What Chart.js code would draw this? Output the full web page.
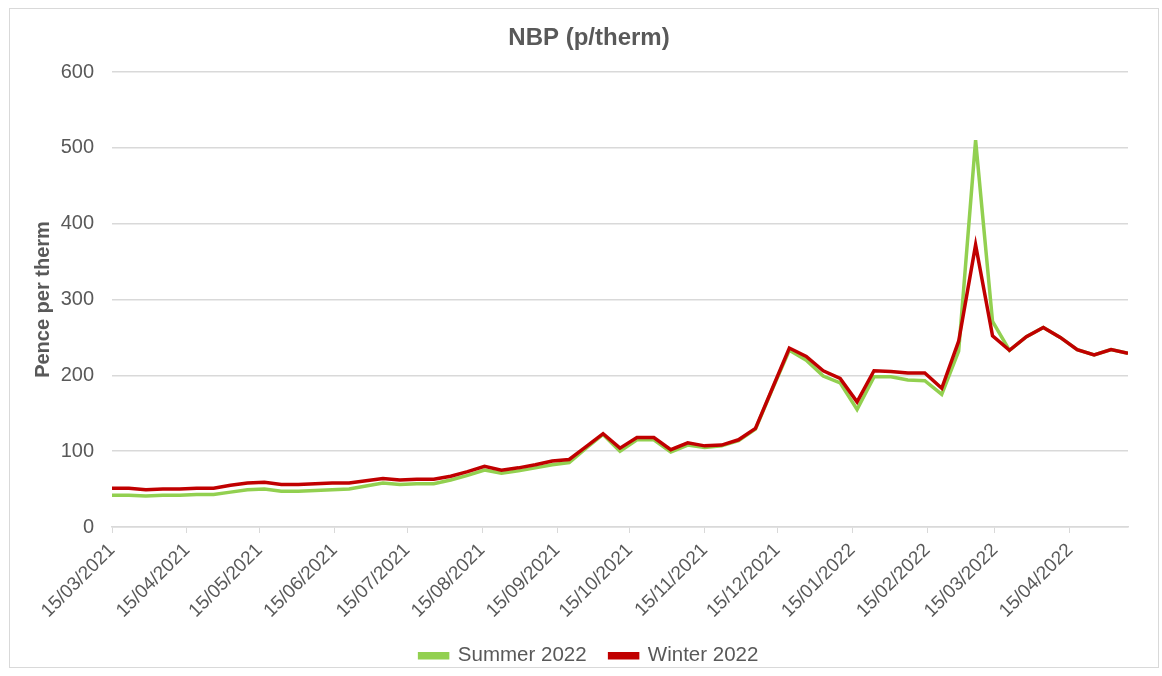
<!DOCTYPE html>
<html>
<head>
<meta charset="utf-8">
<script src="https://cdn.jsdelivr.net/npm/chart.js@4"></script>
<style>
  html, body { margin: 0; padding: 0; background: #fff; }
  #wrap { position: relative; width: 1162px; height: 676px; }
  #frame { position: absolute; left: 9px; top: 8px; width: 1150px; height: 660px; border: 1px solid #d9d9d9; box-sizing: border-box; }
  canvas { position: absolute; left: 0; top: 0; }
</style>
</head>
<body>
<div id="wrap">
  <div id="frame"></div>
  <canvas id="nbp-canvas" width="1162" height="676"></canvas>
</div>
<script>
// weekly observation dates (dd/mm/yyyy)
const weekDates = [
  '15/03/2021', '22/03/2021', '29/03/2021', '05/04/2021', '12/04/2021', '19/04/2021', '26/04/2021',
  '03/05/2021', '10/05/2021', '17/05/2021', '24/05/2021', '31/05/2021', '07/06/2021', '14/06/2021',
  '21/06/2021', '28/06/2021', '05/07/2021', '12/07/2021', '19/07/2021', '26/07/2021', '02/08/2021',
  '09/08/2021', '16/08/2021', '23/08/2021', '30/08/2021', '06/09/2021', '13/09/2021', '20/09/2021',
  '27/09/2021', '04/10/2021', '11/10/2021', '18/10/2021', '25/10/2021', '01/11/2021', '08/11/2021',
  '15/11/2021', '22/11/2021', '29/11/2021', '06/12/2021', '13/12/2021', '20/12/2021', '27/12/2021',
  '03/01/2022', '10/01/2022', '17/01/2022', '24/01/2022', '31/01/2022', '07/02/2022', '14/02/2022',
  '21/02/2022', '28/02/2022', '07/03/2022', '14/03/2022', '21/03/2022', '28/03/2022', '04/04/2022',
  '11/04/2022', '18/04/2022', '25/04/2022', '02/05/2022', '09/05/2022'
];

// Summer 2022 contract, pence per therm
const summer2022 = [
  42, 42, 41, 42, 42, 43, 43, 46, 49, 50, 47, 47, 48, 49, 50, 54, 58, 56, 57, 57,
  62, 68, 75, 71, 74, 78, 82, 85, 104, 122, 100, 115, 115, 99, 108, 105, 107, 114, 129, 182,
  233, 220, 199, 190, 155, 198, 198, 194, 193, 175, 232, 510, 271, 233, 251, 263, 250, 234, 227, 234,
  229
];

// Winter 2022 contract, pence per therm
const winter2022 = [
  51, 51, 49, 50, 50, 51, 51, 55, 58, 59, 56, 56, 57, 58, 58, 61, 64, 62, 63, 63,
  67, 73, 80, 75, 78, 82, 87, 89, 106, 123, 104, 118, 118, 102, 111, 107, 108, 115, 130, 183,
  236, 225, 206, 196, 165, 206, 205, 203, 203, 183, 245, 372, 252, 233, 251, 263, 250, 234, 227, 234,
  229
];

// x axis tick labels (15th of each month)
const tickLabels = [
  '15/03/2021', '15/04/2021', '15/05/2021', '15/06/2021', '15/07/2021', '15/08/2021', '15/09/2021',
  '15/10/2021', '15/11/2021', '15/12/2021', '15/01/2022', '15/02/2022', '15/03/2022', '15/04/2022'
];

const yTicks = [0, 100, 200, 300, 400, 500, 600];

const textColor = '#595959';
const gridColor = '#d9d9d9';
const fontFamily = '"Liberation Sans", Arial, sans-serif';

// days since first date, so the axis is a real date axis
function dayNumber(s) {
  const [d, m, y] = s.split('/').map(Number);
  return Math.round((Date.UTC(y, m - 1, d) - Date.UTC(2021, 2, 15)) / 86400000);
}

function toPoints(values) {
  return weekDates.map((d, i) => ({ x: dayNumber(d), y: values[i] }));
}

const tickDays = tickLabels.map(dayNumber);
const lastDay = dayNumber(weekDates[weekDates.length - 1]);

const ctx = document.getElementById('nbp-canvas').getContext('2d');
new Chart(ctx, {
  type: 'line',
  data: {
    datasets: [{
      label: 'Summer 2022',
      data: toPoints(summer2022),
      borderColor: '#92d050',
      backgroundColor: '#92d050',
      borderWidth: 3.5,
      pointRadius: 0,
      tension: 0,
      order: 1
    }, {
      label: 'Winter 2022',
      data: toPoints(winter2022),
      borderColor: '#c00000',
      backgroundColor: '#c00000',
      borderWidth: 3.5,
      pointRadius: 0,
      tension: 0,
      order: 0
    }]
  },
  options: {
    responsive: false,
    animation: false,
    layout: { padding: { left: 50, right: 34, top: 10, bottom: 0 } },
    scales: {
      x: {
        type: 'linear',
        min: 0,
        max: lastDay,
        afterBuildTicks: function(scale) {
          scale.ticks = tickDays.map(v => ({ value: v }));
        },
        afterFit: function(scale) {
          scale.height = 95.5;
        },
        ticks: {
          autoSkip: false,
          minRotation: 45,
          maxRotation: 45,
          padding: 6,
          color: textColor,
          font: { family: fontFamily, size: 19 },
          callback: function(value, index) {
            return tickLabels[index];
          }
        },
        grid: {
          drawOnChartArea: false,
          drawTicks: true,
          tickLength: 6,
          color: gridColor
        },
        border: { display: true, color: gridColor, width: 1.5 }
      },
      y: {
        min: 0,
        max: 600,
        afterBuildTicks: function(scale) {
          scale.ticks = yTicks.map(v => ({ value: v }));
        },
        afterFit: function(scale) {
          scale.width = 62;
        },
        ticks: {
          padding: 18,
          color: textColor,
          font: { family: fontFamily, size: 20 }
        },
        grid: { color: gridColor, lineWidth: 1.5, drawTicks: false },
        border: { display: false },
        title: {
          display: true,
          text: 'Pence per therm',
          color: textColor,
          font: { family: fontFamily, size: 20, weight: 'bold' },
          padding: { top: -19, bottom: 0 }
        }
      }
    },
    plugins: {
      title: {
        display: true,
        text: 'NBP (p/therm)',
        color: textColor,
        font: { family: fontFamily, size: 24, weight: 'bold' },
        padding: { top: 13.6, bottom: 19.6 }
      },
      legend: {
        display: true,
        position: 'bottom',
        labels: {
          boxWidth: 28,
          boxHeight: 4,
          padding: 23,
          color: textColor,
          font: { family: fontFamily, size: 20.5 },
          sort: (a, b) => a.datasetIndex - b.datasetIndex
        }
      },
      tooltip: { enabled: false }
    }
  }
});
</script>
</body>
</html>
